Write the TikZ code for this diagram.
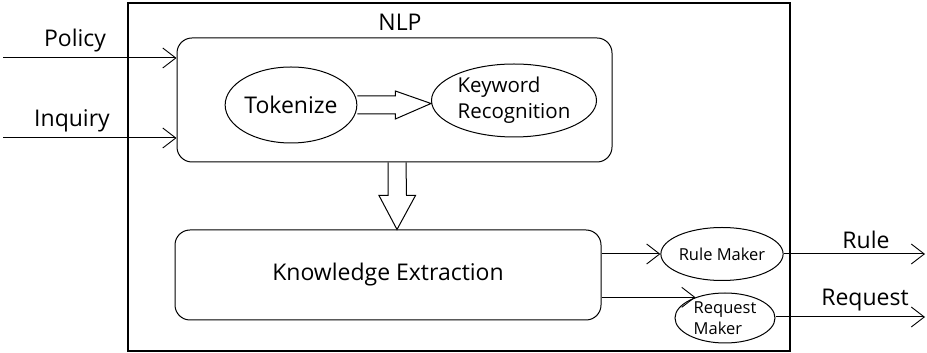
\documentclass[tikz,border=0pt]{standalone}
\usepackage{fontspec}
\setmainfont{Open Sans}
\usetikzlibrary{arrows.meta,shapes,calc}

\begin{document}
\begin{tikzpicture}[x=1pt,y=1pt,>={Straight Barb[length=13pt,width=20pt,line width=0.9pt]},
                    line width=1pt,font=\fontsize{23}{27}\selectfont]
  \tikzstyle{block}=[draw,rounded corners=15pt,inner sep=0pt]
  \tikzstyle{oval}=[ellipse,draw,inner sep=0pt]
  \tikzstyle{small oval}=[oval,font=\fontsize{16.5}{21}\selectfont,align=left]
  \tikzstyle{hollow}=[draw,line width=1pt,line join=miter]

  \useasboundingbox (0,0) rectangle (927,353);

  \node[draw,line width=1.4pt,minimum width=662pt,minimum height=348pt] (sys) at (459,176) {};
  \node[block,minimum width=435pt,minimum height=124pt] (nlp) at (394.5,253) {};
  \node (nlplabel) at (400,331) {NLP};
  \node[block,minimum width=426pt,minimum height=90pt] (ke) at (388,78) {Knowledge Extraction};

  \node[oval,minimum width=131pt,minimum height=76pt] (tok) at (291,248) {Tokenize};
  \node[oval,minimum width=165pt,minimum height=73pt,align=left,
        font=\fontsize{20.5}{26}\selectfont] (kwr) at (514,252.5) {Keyword\\Recognition};

  \node[small oval,minimum width=99pt,minimum height=53pt] (rm) at (722,99) {Rule Maker};
  \node[small oval,minimum width=100pt,minimum height=50pt] (reqm) at (725,35) {Request\\Maker};

  % inputs
  \coordinate (policy in) at (3,295);
  \coordinate (inquiry in) at (3,215);
  \node (policy) at (75,312) {Policy};
  \node (inquiry) at (72,232) {Inquiry};
  \draw[->] (policy in) -- (policy in -| nlp.west);
  \draw[->] (inquiry in) -- (inquiry in -| nlp.west);

  % hollow arrows
  \draw[hollow] ([yshift=9pt]tok.east) -- ++(38,0) -- ++(0,5) -- ([yshift=-3pt]kwr.west)
        -- ([shift={(38,-14)}]tok.east) -- ++(0,5) -- ([yshift=-9pt]tok.east);
  \draw[hollow] ([xshift=-6.5pt]nlp.south) -- ++(0,-33) -- ++(-9,0) -- ([xshift=9pt]ke.north)
        -- ([shift={(21,-33)}]nlp.south) -- ++(-9,0) -- ([xshift=11.5pt]nlp.south);

  % outputs
  \draw[->] (ke.east |- rm.west) -- (rm.west);
  \draw[->] (ke.east |- reqm.145) -- (reqm.145);
  \coordinate (rule out) at (925,99);
  \coordinate (request out) at (925,36);
  \node (rule) at (866,113) {Rule};
  \node (request) at (865,53) {Request};
  \draw[->] (rm.east) -- (rule out);
  \draw[->] (reqm.east |- request out) -- (request out);
\end{tikzpicture}
\end{document}
